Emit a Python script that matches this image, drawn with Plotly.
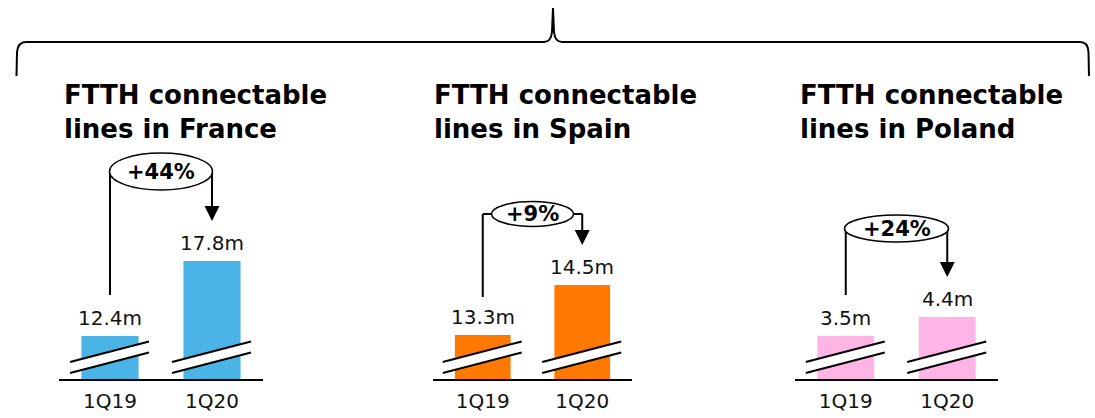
import plotly.graph_objects as go

# ---- data ----
countries = ["France", "Spain", "Poland"]
quarters = ["1Q19", "1Q20"]
france_lines = [12.4, 17.8]
spain_lines = [13.3, 14.5]
poland_lines = [3.5, 4.4]
growth_labels = ["+44%", "+9%", "+24%"]
colors = ["#4BB4E6", "#FF7900", "#FFB4E6"]

series = [france_lines, spain_lines, poland_lines]

# ---- layout helpers ----
W, H = 1095, 418
FONT = "DejaVu Sans"


def px_x(p):
    return p / W


def px_y(p):
    return 1 - p / H


# panel geometry (pixels)
x_domains = [(59, 263), (433, 632), (795, 998)]
y_domain = (379, 150)
y_ranges = [(9.304, 25.79), (12.244, 17.74), (1.463, 12.31)]
title_x = [62, 432, 798]
# growth callout geometry: ellipse centre y, ellipse w, h, left line bottom, arrow tip
callouts = [
    dict(yc=171.5, w=103, h=37, lb=295, tip=221),
    dict(yc=214, w=82, h=25, lb=297, tip=245),
    dict(yc=228.5, w=104, h=27, lb=295, tip=277),
]

fig = go.Figure()
shapes = []
annotations = []

for k, (country, vals, col) in enumerate(zip(countries, series, colors)):
    sfx = "" if k == 0 else str(k + 1)
    xa, ya = "x" + sfx, "y" + sfx
    fig.add_trace(go.Bar(
        x=quarters, y=vals, marker=dict(color=col, line=dict(width=0)),
        width=0.56, xaxis=xa, yaxis=ya, hoverinfo="skip", showlegend=False,
    ))
    fig.update_layout(**{
        "xaxis" + sfx: dict(
            domain=[px_x(x_domains[k][0]), px_x(x_domains[k][1])],
            type="category", categoryorder="array", categoryarray=quarters,
            range=[-0.5, 1.5], showline=True, linecolor="black", linewidth=2,
            showgrid=False, zeroline=False, ticks="", fixedrange=True,
            tickfont=dict(family=FONT, size=20, color="#111111"),
            anchor=ya, ticklabelstandoff=3,
        ),
        "yaxis" + sfx: dict(
            domain=[px_y(y_domain[0]), px_y(y_domain[1])],
            range=list(y_ranges[k]), visible=False, fixedrange=True,
            anchor=xa,
        ),
    })

    # value labels
    for i, v in enumerate(vals):
        annotations.append(dict(
            x=i, y=v, xref=xa, yref=ya, text=f"{v:.1f}m", showarrow=False,
            yanchor="bottom", xanchor="center", yshift=4,
            font=dict(family=FONT, size=20, color="#111111"),
        ))
        # axis break marks
        base = dict(xref=xa, yref=ya, xsizemode="pixel", ysizemode="pixel",
                    xanchor=i, yanchor=y_ranges[k][0], layer="above")
        shapes.append(dict(base, type="path",
                           path="M -40,6 L 39,26.5 L 39,37.5 L -40,17 Z",
                           fillcolor="white", line=dict(width=0)))
        shapes.append(dict(base, type="path", path="M -40,17 L 39,37.5",
                           line=dict(color="black", width=2)))
        shapes.append(dict(base, type="path", path="M -40,6 L 39,26.5",
                           line=dict(color="black", width=2)))

    # growth callout
    c = callouts[k]
    ln = dict(color="black", width=2)
    shapes.append(dict(type="line", xref=xa, yref="paper", x0=0, x1=0,
                       y0=px_y(c["lb"]), y1=px_y(c["yc"]), line=ln))
    shapes.append(dict(type="line", xref=xa, yref="paper", x0=0, x1=1,
                       y0=px_y(c["yc"]), y1=px_y(c["yc"]), line=ln))
    shapes.append(dict(type="line", xref=xa, yref="paper", x0=1, x1=1,
                       y0=px_y(c["yc"]), y1=px_y(c["tip"] - 14), line=ln))
    shapes.append(dict(type="circle", xref=xa, yref="paper", xsizemode="pixel",
                       xanchor=0.5, x0=-c["w"] / 2, x1=c["w"] / 2,
                       y0=px_y(c["yc"] + c["h"] / 2), y1=px_y(c["yc"] - c["h"] / 2),
                       fillcolor="white", line=dict(color="black", width=1.5)))
    shapes.append(dict(type="path", xref=xa, yref="paper", xsizemode="pixel",
                       ysizemode="pixel", xanchor=1, yanchor=px_y(c["tip"]),
                       path="M -7.5,15 L 7.5,15 L 0,0 Z", fillcolor="black",
                       line=dict(width=0)))
    annotations.append(dict(
        x=0.5, y=px_y(c["yc"]), xref=xa, yref="paper", text=f"<b>{growth_labels[k]}</b>",
        showarrow=False, xanchor="center", yanchor="middle",
        font=dict(family=FONT, size=21, color="black"),
    ))

    # panel title
    annotations.append(dict(
        x=px_x(title_x[k]), y=px_y(78), xref="paper", yref="paper",
        text=f"<b>FTTH connectable<br>lines in {country}</b>", showarrow=False,
        xanchor="left", yanchor="top", align="left",
        font=dict(family=FONT, size=26, color="black"),
    ))

# top curly brace
brace_pts = [
    ("M", [(16.5, 76)]), ("L", [(17, 52)]), ("Q", [(18, 42), (26, 42)]),
    ("L", [(544, 42)]), ("Q", [(551, 42), (552, 32)]), ("L", [(553, 8)]),
    ("L", [(554, 32)]), ("Q", [(555, 42), (562, 42)]), ("L", [(1080, 42)]),
    ("Q", [(1088, 42), (1088.5, 52)]), ("L", [(1089, 76)]),
]
path = " ".join(
    cmd + " " + " ".join(f"{px_x(a):.5f},{px_y(b):.5f}" for a, b in pts)
    for cmd, pts in brace_pts
)
shapes.append(dict(type="path", xref="paper", yref="paper", path=path,
                   line=dict(color="black", width=2)))

fig.update_layout(
    width=W, height=H, margin=dict(l=0, r=0, t=0, b=0),
    paper_bgcolor="white", plot_bgcolor="rgba(0,0,0,0)",
    showlegend=False, shapes=shapes, annotations=annotations,
    font=dict(family=FONT, color="black"), bargap=0.44,
)

fig.write_html("out.html")
